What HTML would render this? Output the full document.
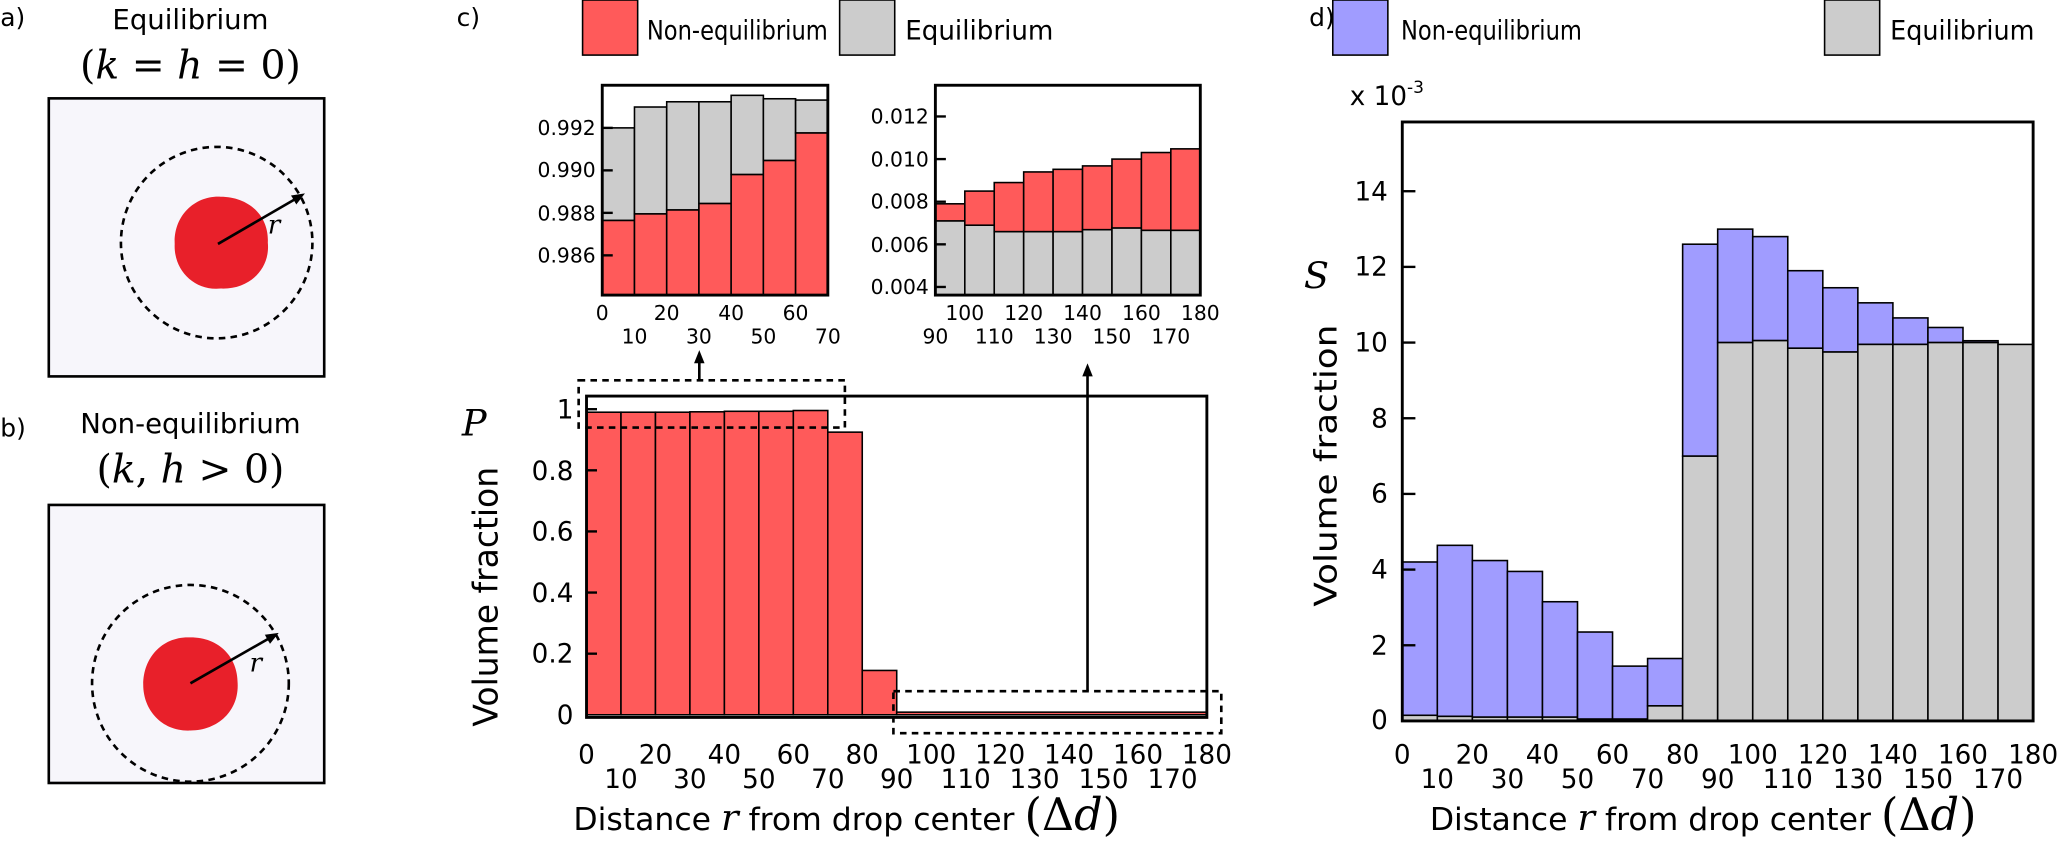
<!DOCTYPE html>
<html><head><meta charset="utf-8"><style>
html,body{margin:0;padding:0;background:#fff;}
svg{display:block;}
text{font-family:"DejaVu Sans","Liberation Sans",sans-serif;fill:#000;}
.m{font-family:"DejaVu Serif","Liberation Serif",serif;}
.t{font-size:20px;}
.s{font-size:15.5px;}
.r{fill:#ff5a5a;stroke:#000;stroke-width:1.2;}
.g{fill:#cccccc;stroke:#000;stroke-width:1.2;}
.b{fill:#a09cff;stroke:#000;stroke-width:1.2;}
.f{fill:none;stroke:#000;stroke-width:2.2;}
.k{stroke:#000;stroke-width:1.8;}
</style></head><body>
<svg width="2057" height="842" viewBox="0 0 1568 642" xmlns="http://www.w3.org/2000/svg">
<defs><marker id="ah" markerWidth="10" markerHeight="10" refX="5" refY="5" orient="auto" markerUnits="userSpaceOnUse"><path d="M0,1 L10,5 L0,9 z" fill="#000"/></marker></defs>

<!-- Panel a -->
<text x="0" y="20" style="font-size:19px">a)</text>
<text x="145" y="22" text-anchor="middle" style="font-size:21px">Equilibrium</text>
<text x="145" y="60" text-anchor="middle" class="m" style="font-size:30px">(<tspan font-style="italic">k</tspan> = <tspan font-style="italic">h</tspan> = 0)</text>
<rect x="37" y="75" width="210" height="212" fill="#f7f6fb" stroke="#000" stroke-width="2"/>
<path d="M168,150 C190,150 205,165 204,185 C206,205 190,221 168,220 C148,222 132,206 133,186 C132,165 148,149 168,150 z" fill="#e8202a"/>
<circle cx="165" cy="185" r="73" fill="none" stroke="#000" stroke-width="2" stroke-dasharray="5,4"/>
<line x1="166" y1="186" x2="228" y2="150" stroke="#000" stroke-width="2" marker-end="url(#ah)"/>
<text x="204" y="178" class="m" font-style="italic" style="font-size:20px">r</text>

<!-- Panel b -->
<text x="0" y="333" style="font-size:19px">b)</text>
<text x="145" y="330" text-anchor="middle" style="font-size:21px">Non-equilibrium</text>
<text x="145" y="368" text-anchor="middle" class="m" style="font-size:30px">(<tspan font-style="italic">k</tspan>, <tspan font-style="italic">h</tspan> &gt; 0)</text>
<rect x="37" y="385" width="210" height="212" fill="#f7f6fb" stroke="#000" stroke-width="2"/>
<path d="M145,486 C167,486 181,501 181,521 C182,542 166,557 145,557 C124,558 109,542 109,522 C109,501 124,485 145,486 z" fill="#e8202a"/>
<circle cx="145" cy="521" r="75" fill="none" stroke="#000" stroke-width="2" stroke-dasharray="5,4"/>
<line x1="145" y1="521" x2="208" y2="485" stroke="#000" stroke-width="2" marker-end="url(#ah)"/>
<text x="190" y="512" class="m" font-style="italic" style="font-size:20px">r</text>

<!-- Panel c -->
<text x="348" y="20" style="font-size:19px">c)</text>
<rect x="444" y="0" width="42" height="42" class="r"/>
<text x="493" y="30" style="font-size:20px" textLength="138" lengthAdjust="spacingAndGlyphs">Non-equilibrium</text>
<rect x="640" y="0" width="42" height="42" class="g"/>
<text x="690" y="30" style="font-size:20px" textLength="113" lengthAdjust="spacingAndGlyphs">Equilibrium</text>

<!-- inset 1 -->
<g>
<rect x="459" y="97.5" width="24.57" height="70.6" class="g"/><rect x="459" y="168.1" width="24.57" height="56.9" class="r"/>
<rect x="483.57" y="81.6" width="24.57" height="81.5" class="g"/><rect x="483.57" y="163.1" width="24.57" height="61.9" class="r"/>
<rect x="508.14" y="77.6" width="24.57" height="82.5" class="g"/><rect x="508.14" y="160.1" width="24.57" height="64.9" class="r"/>
<rect x="532.71" y="77.6" width="24.57" height="77.6" class="g"/><rect x="532.71" y="155.2" width="24.57" height="69.8" class="r"/>
<rect x="557.28" y="72.7" width="24.57" height="60.4" class="g"/><rect x="557.28" y="133.1" width="24.57" height="91.9" class="r"/>
<rect x="581.85" y="75.3" width="24.57" height="47.1" class="g"/><rect x="581.85" y="122.4" width="24.57" height="102.6" class="r"/>
<rect x="606.42" y="76.3" width="24.57" height="25.1" class="g"/><rect x="606.42" y="101.4" width="24.57" height="123.6" class="r"/>
<rect x="459" y="65" width="172" height="160" class="f"/>
<line x1="459" y1="97.5" x2="467" y2="97.5" class="k"/><line x1="459" y1="129.9" x2="467" y2="129.9" class="k"/><line x1="459" y1="162.3" x2="467" y2="162.3" class="k"/><line x1="459" y1="194.7" x2="467" y2="194.7" class="k"/>
<g class="s" text-anchor="end"><text x="454" y="103">0.992</text><text x="454" y="135">0.990</text><text x="454" y="168">0.988</text><text x="454" y="200">0.986</text></g>
<g class="s" text-anchor="middle"><text x="459" y="244">0</text><text x="508.1" y="244">20</text><text x="557.3" y="244">40</text><text x="606.4" y="244">60</text>
<text x="483.6" y="262">10</text><text x="532.7" y="262">30</text><text x="581.9" y="262">50</text><text x="631" y="262">70</text></g>
</g>

<!-- inset 2 -->
<g>
<rect x="713" y="168.4" width="22.44" height="56.6" class="g"/><rect x="713" y="155.4" width="22.44" height="13" class="r"/>
<rect x="735.44" y="171.7" width="22.44" height="53.3" class="g"/><rect x="735.44" y="145.7" width="22.44" height="26" class="r"/>
<rect x="757.88" y="176.6" width="22.44" height="48.4" class="g"/><rect x="757.88" y="139.2" width="22.44" height="37.4" class="r"/>
<rect x="780.32" y="176.6" width="22.44" height="48.4" class="g"/><rect x="780.32" y="131.1" width="22.44" height="45.5" class="r"/>
<rect x="802.76" y="176.6" width="22.44" height="48.4" class="g"/><rect x="802.76" y="129.1" width="22.44" height="47.5" class="r"/>
<rect x="825.2" y="175.1" width="22.44" height="49.9" class="g"/><rect x="825.2" y="126.5" width="22.44" height="48.6" class="r"/>
<rect x="847.64" y="173.8" width="22.44" height="51.2" class="g"/><rect x="847.64" y="121.3" width="22.44" height="52.5" class="r"/>
<rect x="870.08" y="175.6" width="22.44" height="49.4" class="g"/><rect x="870.08" y="116.3" width="22.44" height="59.3" class="r"/>
<rect x="892.52" y="175.6" width="22.44" height="49.4" class="g"/><rect x="892.52" y="113.5" width="22.44" height="62.1" class="r"/>
<rect x="713" y="65" width="202" height="160" class="f"/>
<line x1="713" y1="88.8" x2="721" y2="88.8" class="k"/><line x1="713" y1="121.3" x2="721" y2="121.3" class="k"/><line x1="713" y1="153.8" x2="721" y2="153.8" class="k"/><line x1="713" y1="186.3" x2="721" y2="186.3" class="k"/><line x1="713" y1="218.8" x2="721" y2="218.8" class="k"/>
<g class="s" text-anchor="end"><text x="708" y="94">0.012</text><text x="708" y="127">0.010</text><text x="708" y="159">0.008</text><text x="708" y="192">0.006</text><text x="708" y="224">0.004</text></g>
<g class="s" text-anchor="middle"><text x="735.4" y="244">100</text><text x="780.3" y="244">120</text><text x="825.2" y="244">140</text><text x="870.1" y="244">160</text><text x="915" y="244">180</text>
<text x="713" y="262">90</text><text x="757.9" y="262">110</text><text x="802.8" y="262">130</text><text x="847.6" y="262">150</text><text x="892.5" y="262">170</text></g>
</g>

<!-- main c -->
<g>
<rect x="447" y="314.3" width="26.28" height="230.7" class="r"/>
<rect x="473.28" y="314.3" width="26.28" height="230.7" class="r"/>
<rect x="499.56" y="314.3" width="26.28" height="230.7" class="r"/>
<rect x="525.84" y="314" width="26.28" height="231" class="r"/>
<rect x="552.12" y="313.6" width="26.28" height="231.4" class="r"/>
<rect x="578.4" y="313.6" width="26.28" height="231.4" class="r"/>
<rect x="604.68" y="313" width="26.28" height="232" class="r"/>
<rect x="630.96" y="329.5" width="26.28" height="215.5" class="r"/>
<rect x="657.24" y="511.2" width="26.28" height="33.8" class="r"/>
<rect x="683.5" y="543" width="236.5" height="2" class="r"/>
<rect x="447" y="302" width="473" height="245" class="f"/>
<line x1="447" y1="312" x2="455" y2="312" class="k"/><line x1="447" y1="358.6" x2="455" y2="358.6" class="k"/><line x1="447" y1="405.2" x2="455" y2="405.2" class="k"/><line x1="447" y1="451.8" x2="455" y2="451.8" class="k"/><line x1="447" y1="498.4" x2="455" y2="498.4" class="k"/>
<g class="t" text-anchor="end"><text x="437" y="319">1</text><text x="437" y="366">0.8</text><text x="437" y="412">0.6</text><text x="437" y="459">0.4</text><text x="437" y="505">0.2</text><text x="437" y="552">0</text></g>
<rect x="441" y="290" width="203" height="36" fill="none" stroke="#000" stroke-width="2" stroke-dasharray="5,4"/>
<rect x="681" y="527" width="250" height="32" fill="none" stroke="#000" stroke-width="2" stroke-dasharray="5,4"/>
<line x1="533" y1="290" x2="533" y2="272" stroke="#000" stroke-width="2" marker-end="url(#ah)"/>
<line x1="829" y1="527" x2="829" y2="282" stroke="#000" stroke-width="2" marker-end="url(#ah)"/>
<text x="352" y="332" class="m" font-style="italic" style="font-size:28px">P</text>
<text transform="translate(379,455) rotate(-90)" text-anchor="middle" style="font-size:26px" textLength="198" lengthAdjust="spacingAndGlyphs">Volume fraction</text>
<g class="t" text-anchor="middle">
<text x="447" y="582">0</text><text x="499.6" y="582">20</text><text x="552.1" y="582">40</text><text x="604.7" y="582">60</text><text x="657.2" y="582">80</text><text x="709.8" y="582">100</text><text x="762.4" y="582">120</text><text x="814.9" y="582">140</text><text x="867.5" y="582">160</text><text x="920" y="582">180</text>
<text x="473.3" y="601">10</text><text x="525.8" y="601">30</text><text x="578.4" y="601">50</text><text x="631" y="601">70</text><text x="683.5" y="601">90</text><text x="736.1" y="601">110</text><text x="788.6" y="601">130</text><text x="841.2" y="601">150</text><text x="893.8" y="601">170</text>
</g>
<text x="437" y="633" style="font-size:24px">Distance <tspan class="m" font-style="italic" style="font-size:28px">r</tspan> from drop center <tspan class="m" style="font-size:34px">(Δ<tspan font-style="italic">d</tspan>)</tspan></text>
</g>

<!-- Panel d -->
<text x="998" y="20" style="font-size:19px">d)</text>
<rect x="1016" y="0" width="42" height="42" class="b"/>
<text x="1068" y="30" style="font-size:20px" textLength="138" lengthAdjust="spacingAndGlyphs">Non-equilibrium</text>
<rect x="1391" y="0" width="42" height="42" class="g"/>
<text x="1441" y="30" style="font-size:20px" textLength="110" lengthAdjust="spacingAndGlyphs">Equilibrium</text>
<text x="1029" y="80" style="font-size:20px">x 10<tspan dy="-9" style="font-size:13px">-3</tspan></text>
<g>
<rect x="1069" y="428.5" width="26.72" height="116.9" class="b"/><rect x="1069" y="545.4" width="26.72" height="4.3" class="g"/>
<rect x="1095.72" y="415.8" width="26.72" height="130.4" class="b"/><rect x="1095.72" y="546.2" width="26.72" height="3.5" class="g"/>
<rect x="1122.44" y="427.4" width="26.72" height="119.4" class="b"/><rect x="1122.44" y="546.8" width="26.72" height="2.9" class="g"/>
<rect x="1149.16" y="435.7" width="26.72" height="111.1" class="b"/><rect x="1149.16" y="546.8" width="26.72" height="2.9" class="g"/>
<rect x="1175.88" y="458.8" width="26.72" height="88" class="b"/><rect x="1175.88" y="546.8" width="26.72" height="2.9" class="g"/>
<rect x="1202.6" y="481.9" width="26.72" height="66.4" class="b"/><rect x="1202.6" y="548.3" width="26.72" height="1.4" class="g"/>
<rect x="1229.32" y="507.9" width="26.72" height="40.4" class="b"/><rect x="1229.32" y="548.3" width="26.72" height="1.4" class="g"/>
<rect x="1256.04" y="502.1" width="26.72" height="36.1" class="b"/><rect x="1256.04" y="538.2" width="26.72" height="11.5" class="g"/>
<rect x="1282.76" y="186.2" width="26.72" height="161.6" class="b"/><rect x="1282.76" y="347.8" width="26.72" height="201.9" class="g"/>
<rect x="1309.48" y="174.7" width="26.72" height="86.5" class="b"/><rect x="1309.48" y="261.2" width="26.72" height="288.5" class="g"/>
<rect x="1336.2" y="180.4" width="26.72" height="79.3" class="b"/><rect x="1336.2" y="259.7" width="26.72" height="290" class="g"/>
<rect x="1362.92" y="206.4" width="26.72" height="59.1" class="b"/><rect x="1362.92" y="265.5" width="26.72" height="284.2" class="g"/>
<rect x="1389.64" y="219.4" width="26.72" height="49" class="b"/><rect x="1389.64" y="268.4" width="26.72" height="281.3" class="g"/>
<rect x="1416.36" y="230.9" width="26.72" height="31.7" class="b"/><rect x="1416.36" y="262.6" width="26.72" height="287.1" class="g"/>
<rect x="1443.08" y="242.4" width="26.72" height="20.2" class="b"/><rect x="1443.08" y="262.6" width="26.72" height="287.1" class="g"/>
<rect x="1469.8" y="249.7" width="26.72" height="11.5" class="b"/><rect x="1469.8" y="261.2" width="26.72" height="288.5" class="g"/>
<rect x="1496.52" y="259.8" width="26.72" height="1.4" class="b"/><rect x="1496.52" y="261.2" width="26.72" height="288.5" class="g"/>
<rect x="1523.24" y="262.6" width="26.72" height="287.1" class="g"/>
<rect x="1069" y="93" width="481" height="456.7" class="f"/>
<line x1="1069" y1="492" x2="1079" y2="492" class="k"/><line x1="1069" y1="434.3" x2="1079" y2="434.3" class="k"/><line x1="1069" y1="376.6" x2="1079" y2="376.6" class="k"/><line x1="1069" y1="318.9" x2="1079" y2="318.9" class="k"/><line x1="1069" y1="261.2" x2="1079" y2="261.2" class="k"/><line x1="1069" y1="203.5" x2="1079" y2="203.5" class="k"/><line x1="1069" y1="145.8" x2="1079" y2="145.8" class="k"/>
<g class="t" text-anchor="end"><text x="1058" y="556">0</text><text x="1058" y="499">2</text><text x="1058" y="441">4</text><text x="1058" y="383">6</text><text x="1058" y="326">8</text><text x="1058" y="268">10</text><text x="1058" y="210">12</text><text x="1058" y="153">14</text></g>
<text x="994" y="220" class="m" font-style="italic" style="font-size:28px">S</text>
<text transform="translate(1019,355) rotate(-90)" text-anchor="middle" style="font-size:24px" textLength="215" lengthAdjust="spacingAndGlyphs">Volume fraction</text>
<g class="t" text-anchor="middle">
<text x="1069" y="582">0</text><text x="1122.4" y="582">20</text><text x="1175.9" y="582">40</text><text x="1229.3" y="582">60</text><text x="1282.8" y="582">80</text><text x="1336.2" y="582">100</text><text x="1389.6" y="582">120</text><text x="1443.1" y="582">140</text><text x="1496.5" y="582">160</text><text x="1550" y="582">180</text>
<text x="1095.7" y="601">10</text><text x="1149.2" y="601">30</text><text x="1202.6" y="601">50</text><text x="1256" y="601">70</text><text x="1309.5" y="601">90</text><text x="1362.9" y="601">110</text><text x="1416.4" y="601">130</text><text x="1469.8" y="601">150</text><text x="1523.2" y="601">170</text>
</g>
<text x="1090" y="633" style="font-size:24px">Distance <tspan class="m" font-style="italic" style="font-size:28px">r</tspan> from drop center <tspan class="m" style="font-size:34px">(Δ<tspan font-style="italic">d</tspan>)</tspan></text>
</g>
</svg>
</body></html>
